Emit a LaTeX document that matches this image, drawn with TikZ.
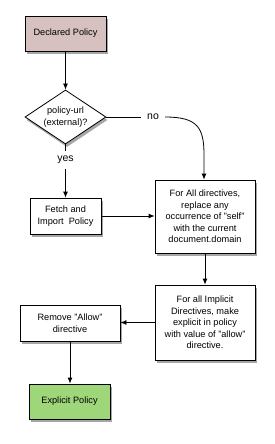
\documentclass[tikz,border=0pt]{standalone}
\usepackage{fontspec}
\setmainfont{Liberation Sans}
\usetikzlibrary{shapes.geometric,arrows.meta,shadows}
\definecolor{pinkfill}{HTML}{D7C0C0}
\definecolor{greenfill}{HTML}{9ED67A}
\tikzset{
  box/.style={draw=black, line width=0.8pt, fill=white, align=center, inner sep=0pt,
    font=\fontsize{9.2}{11.6}\selectfont,
    drop shadow={shadow xshift=1.5pt, shadow yshift=-3pt, opacity=0.35, fill=black}},
  decision/.style={diamond, draw=black, line width=0.8pt, fill=white, align=center, inner sep=0pt,
    font=\fontsize{9.2}{11.6}\selectfont, minimum width=81pt, minimum height=54pt, aspect=1.5,
    drop shadow={shadow xshift=1.5pt, shadow yshift=-3pt, opacity=0.35, fill=black}},
  lbl/.style={font=\fontsize{10.5}{12}\selectfont, inner xsep=6pt, inner ysep=5pt},
  arr/.style={line width=0.8pt, -{Latex[length=6pt,width=5pt]}},
  ln/.style={line width=0.8pt}
}
\begin{document}
\begin{tikzpicture}[x=1pt,y=-1pt]
\useasboundingbox (0,0) rectangle (274,444);
\node[box, fill=pinkfill, minimum width=81pt, minimum height=35pt] (decl) at (65.5,33.5) {Declared Policy};
\node[decision] (dec) at (65.5,117) {policy-url\\(external)?};
\node[box, minimum width=71pt, minimum height=36pt] (fetch) at (65.5,216) {Fetch and\\Import\ \ Policy};
\node[box, minimum width=100pt, minimum height=73pt] (r1) at (205,216.5) {For All directives,\\replace any\\occurrence of "self"\\with the current\\document.domain};
\node[box, minimum width=100pt, minimum height=75pt] (r2) at (205,322.5) {For all Implicit\\Directives, make\\explicit in policy\\with value of "allow"\\directive.};
\node[box, minimum width=100pt, minimum height=36pt] (rem) at (70,323) {Remove "Allow"\\directive};
\node[box, fill=greenfill, minimum width=81pt, minimum height=35pt] (expl) at (69.5,401.5) {Explicit Policy};
\node[lbl] (yes) at (65.5,160) {yes};
\node[lbl] (no) at (153,117) {no};
\draw[arr] (decl) -- (dec);
\draw[ln] (dec.south) -- (yes);
\draw[arr] (yes) -- (fetch);
\draw[ln] (dec.east) -- (no.west);
\draw[arr] (no.east) .. controls (198,117) and (204,128) .. (204,155) -- (r1.north -| 204,0);
\draw[arr] (fetch.east) -- (fetch.east -| r1.west);
\draw[arr] (r1) -- (r2);
\draw[arr] (r2.west) -- (r2.west -| rem.east);
\draw[arr] (rem.south -| 70,0) -- (expl.north -| 70,0);
\end{tikzpicture}
\end{document}
